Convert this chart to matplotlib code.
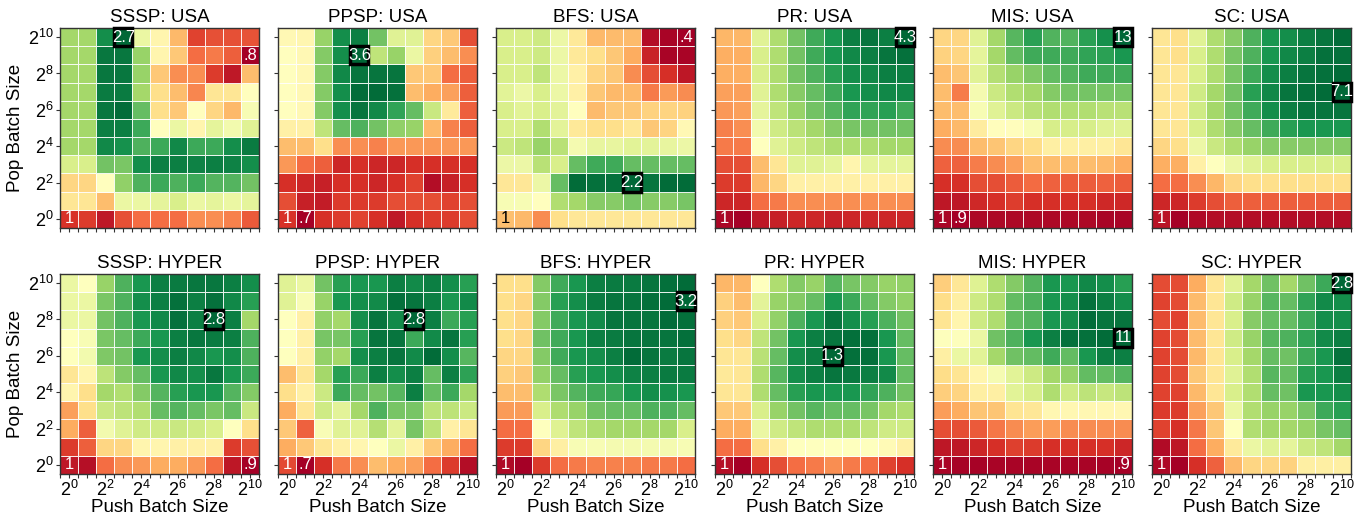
import numpy as np
import matplotlib.pyplot as plt
from matplotlib.patches import Rectangle

plt.rcParams["font.family"] = ["Liberation Sans", "DejaVu Sans"]
plt.rcParams["mathtext.fontset"] = "custom"
plt.rcParams["mathtext.rm"] = "Liberation Sans"
plt.rcParams["mathtext.it"] = "Liberation Sans:italic"

# speedup grids, rows listed from pop=2^10 (top) down to pop=2^0, columns push=2^0..2^10
sssp_usa = [
    [2.13, 2.13, 2.55, 2.70, 1.85, 1.69, 1.41, 1.05, 1.09, 1.09, 1.10],
    [2.13, 2.13, 2.64, 2.64, 2.17, 1.69, 1.47, 1.18, 1.22, 1.14, 0.80],
    [2.13, 2.13, 2.64, 2.64, 2.17, 1.47, 1.28, 1.28, 1.03, 0.90, 1.43],
    [2.13, 2.13, 2.62, 2.62, 2.13, 1.56, 1.43, 1.26, 1.60, 1.60, 1.75],
    [2.13, 2.13, 2.64, 2.68, 2.32, 1.56, 1.47, 1.75, 1.52, 1.41, 1.79],
    [2.13, 2.13, 2.61, 2.61, 2.42, 1.75, 1.85, 1.69, 1.88, 1.81, 1.90],
    [2.13, 2.13, 2.57, 2.53, 2.38, 2.42, 2.57, 2.42, 2.42, 2.55, 2.62],
    [1.94, 1.94, 2.28, 2.26, 2.55, 2.61, 2.61, 2.59, 2.61, 2.59, 2.55],
    [1.52, 1.52, 1.75, 2.19, 2.38, 2.42, 2.38, 2.42, 2.36, 2.36, 2.28],
    [1.60, 1.60, 1.43, 1.85, 1.85, 1.88, 1.94, 1.85, 1.88, 1.85, 1.88],
    [1.00, 1.03, 0.90, 1.09, 1.18, 1.18, 1.18, 1.28, 1.28, 1.24, 1.12],
]
ppsp_usa = [
    [2.09, 2.06, 2.79, 3.37, 3.46, 2.96, 2.38, 2.38, 1.80, 1.72, 1.14],
    [2.15, 2.09, 2.88, 3.37, 3.60, 2.59, 2.79, 2.30, 1.77, 1.66, 1.43],
    [2.15, 2.09, 2.88, 3.40, 3.51, 3.51, 3.51, 1.72, 1.72, 1.28, 1.22],
    [2.15, 2.09, 2.88, 3.37, 3.57, 3.57, 3.54, 1.66, 1.57, 1.51, 1.22],
    [2.15, 2.09, 2.88, 3.37, 3.51, 3.40, 3.22, 3.02, 2.53, 1.95, 1.22],
    [2.01, 2.01, 2.59, 3.02, 3.11, 2.96, 2.82, 2.79, 1.63, 1.37, 1.22],
    [1.66, 1.66, 1.86, 1.43, 1.43, 1.37, 1.48, 1.48, 1.48, 1.48, 1.48],
    [1.48, 1.28, 1.22, 0.93, 0.99, 0.93, 0.93, 0.99, 0.99, 0.99, 0.99],
    [0.99, 0.93, 0.90, 0.99, 0.99, 0.93, 0.99, 1.08, 0.79, 0.90, 0.99],
    [1.14, 0.90, 0.87, 1.05, 1.05, 1.05, 1.14, 1.14, 1.14, 1.08, 1.14],
    [1.00, 0.70, 0.99, 1.05, 1.08, 0.99, 0.85, 0.99, 1.05, 1.05, 1.14],
]
bfs_usa = [
    [1.48, 1.48, 1.52, 1.39, 1.17, 0.98, 0.99, 0.99, 0.45, 0.42, 0.40],
    [1.48, 1.48, 1.52, 1.39, 1.17, 1.12, 1.03, 0.94, 0.53, 0.42, 0.42],
    [1.48, 1.48, 1.57, 1.39, 1.21, 1.08, 1.03, 0.85, 0.67, 0.58, 0.49],
    [1.44, 1.39, 1.48, 1.39, 1.21, 1.03, 0.98, 0.98, 0.80, 0.89, 0.85],
    [1.48, 1.44, 1.48, 1.43, 1.30, 0.99, 1.03, 1.03, 1.07, 1.08, 1.07],
    [1.48, 1.48, 1.62, 1.43, 1.17, 1.12, 1.12, 1.16, 1.03, 1.08, 1.26],
    [1.53, 1.57, 1.70, 1.59, 1.35, 1.41, 1.41, 1.44, 1.43, 1.41, 1.39],
    [1.39, 1.39, 1.59, 1.48, 1.84, 1.93, 1.93, 1.84, 1.84, 1.84, 1.84],
    [1.16, 1.16, 1.39, 1.84, 2.18, 2.16, 2.16, 2.20, 2.15, 2.18, 2.18],
    [1.34, 1.34, 1.30, 1.62, 1.66, 1.75, 1.75, 1.79, 1.75, 1.75, 1.79],
    [1.00, 0.98, 0.85, 1.12, 1.16, 1.16, 1.16, 1.16, 1.16, 1.16, 1.16],
]
pr_usa = [
    [2.02, 2.02, 2.89, 3.23, 3.56, 3.80, 3.97, 4.13, 4.20, 4.13, 4.30],
    [1.96, 1.96, 2.96, 3.23, 3.56, 3.80, 3.97, 4.07, 4.13, 4.20, 4.23],
    [1.96, 1.96, 2.96, 3.23, 3.56, 3.73, 3.90, 4.03, 4.07, 4.13, 4.13],
    [1.89, 1.89, 2.89, 3.23, 3.46, 3.63, 3.80, 3.97, 4.03, 4.07, 4.07],
    [1.85, 1.89, 2.86, 3.13, 3.36, 3.56, 3.70, 3.86, 3.86, 3.90, 3.80],
    [1.72, 1.79, 2.73, 3.03, 3.16, 3.30, 3.46, 3.53, 3.56, 3.56, 3.56],
    [1.69, 1.69, 2.63, 2.89, 3.03, 3.13, 3.23, 3.23, 3.23, 3.30, 3.30],
    [1.45, 1.45, 2.06, 2.36, 2.89, 2.89, 2.86, 2.52, 2.86, 2.86, 2.86],
    [1.35, 1.35, 2.02, 2.22, 2.46, 2.46, 2.46, 2.46, 2.46, 2.46, 2.46],
    [1.22, 1.22, 1.62, 1.69, 1.79, 1.79, 1.79, 1.79, 1.79, 1.79, 1.79],
    [1.00, 0.95, 1.12, 1.18, 1.22, 1.22, 1.18, 1.22, 1.22, 1.22, 1.22],
]
mis_usa = [
    [5.5, 5.5, 7.9, 9.4, 10.8, 11.5, 10.9, 10.9, 11.5, 12.0, 13.0],
    [5.4, 5.5, 7.8, 9.4, 10.6, 11.2, 11.2, 11.2, 11.4, 11.5, 11.8],
    [4.9, 5.1, 7.9, 9.0, 9.6, 10.1, 10.6, 10.9, 11.2, 11.2, 11.2],
    [4.9, 3.6, 7.3, 8.5, 9.1, 9.4, 10.0, 10.3, 10.3, 10.3, 10.3],
    [4.9, 4.9, 7.2, 7.9, 8.5, 8.9, 9.1, 9.1, 9.1, 8.9, 8.9],
    [4.5, 4.8, 6.2, 6.9, 6.9, 7.2, 8.2, 8.2, 8.2, 7.9, 7.9],
    [3.9, 3.9, 4.9, 5.1, 5.5, 5.7, 6.3, 6.3, 6.3, 6.3, 6.0],
    [3.1, 3.1, 3.6, 3.9, 4.3, 4.9, 4.9, 4.9, 4.9, 4.8, 4.5],
    [2.1, 2.1, 2.7, 2.7, 3.0, 3.3, 3.1, 3.0, 3.0, 3.1, 3.0],
    [1.5, 1.5, 1.9, 2.1, 2.4, 2.1, 2.1, 2.1, 2.1, 1.9, 1.9],
    [1.0, 0.9, 1.1, 1.1, 1.1, 1.1, 1.1, 1.1, 1.1, 1.0, 1.0],
]
sc_usa = [
    [3.42, 3.29, 4.43, 5.07, 5.51, 6.02, 6.47, 6.59, 6.78, 6.91, 7.04],
    [3.42, 3.29, 4.56, 5.07, 5.64, 6.02, 6.47, 6.66, 6.78, 6.97, 6.97],
    [3.42, 3.42, 4.56, 5.07, 5.64, 6.15, 6.59, 6.78, 6.91, 6.97, 7.04],
    [3.42, 3.42, 4.69, 5.20, 5.70, 6.34, 6.66, 6.91, 6.97, 7.04, 7.10],
    [3.42, 3.42, 4.69, 5.20, 5.70, 6.15, 6.59, 6.78, 6.91, 6.91, 6.91],
    [3.42, 3.42, 4.56, 5.07, 5.51, 5.83, 6.15, 6.34, 6.47, 6.47, 6.47],
    [3.16, 3.29, 4.24, 4.75, 5.07, 5.32, 5.51, 5.51, 5.51, 5.51, 5.51],
    [2.66, 2.66, 3.61, 3.93, 4.24, 4.43, 4.56, 4.56, 4.56, 4.56, 4.56],
    [2.02, 2.02, 2.34, 2.78, 3.16, 3.29, 3.29, 3.29, 3.29, 3.29, 3.29],
    [1.26, 1.26, 1.51, 1.70, 1.89, 1.89, 1.89, 1.89, 1.89, 1.89, 1.89],
    [1.00, 0.75, 0.88, 0.94, 0.94, 0.94, 0.94, 0.94, 0.94, 0.94, 0.94],
]
sssp_hyper = [
    [1.95, 1.85, 2.27, 2.48, 2.61, 2.71, 2.72, 2.74, 2.74, 2.71, 2.65],
    [1.95, 1.95, 2.36, 2.48, 2.65, 2.71, 2.76, 2.71, 2.76, 2.67, 2.57],
    [1.95, 1.95, 2.38, 2.48, 2.61, 2.67, 2.76, 2.71, 2.80, 2.71, 2.23],
    [1.85, 1.89, 2.36, 2.42, 2.52, 2.61, 2.71, 2.74, 2.72, 2.71, 2.48],
    [1.85, 1.91, 2.34, 2.38, 2.61, 2.65, 2.71, 2.67, 2.61, 2.65, 2.48],
    [1.70, 1.79, 2.14, 2.33, 2.42, 2.61, 2.67, 2.65, 2.74, 2.61, 2.52],
    [1.79, 1.66, 2.23, 2.19, 2.33, 2.46, 2.57, 2.61, 2.61, 2.46, 2.33],
    [1.43, 1.66, 2.10, 2.14, 2.19, 2.42, 2.46, 2.42, 2.36, 2.42, 2.10],
    [1.47, 1.24, 1.91, 2.00, 2.08, 2.08, 2.10, 2.08, 2.04, 1.85, 1.66],
    [1.13, 1.24, 1.62, 1.62, 1.79, 1.79, 1.76, 1.76, 1.76, 1.13, 1.19],
    [1.00, 0.96, 1.28, 1.38, 1.41, 1.47, 1.47, 1.41, 1.28, 0.99, 0.90],
]
ppsp_hyper = [
    [1.92, 1.86, 2.34, 2.55, 2.59, 2.59, 2.70, 2.65, 2.70, 2.63, 2.55],
    [1.92, 1.79, 2.21, 2.59, 2.63, 2.65, 2.76, 2.74, 2.70, 2.59, 2.65],
    [1.75, 1.65, 2.23, 2.17, 2.63, 2.74, 2.65, 2.80, 2.70, 2.49, 2.55],
    [1.75, 1.65, 2.32, 2.32, 2.55, 2.74, 2.74, 2.49, 2.65, 2.74, 2.55],
    [1.75, 1.65, 2.23, 2.17, 2.63, 2.70, 2.74, 2.65, 2.78, 2.63, 2.42],
    [1.39, 1.58, 2.17, 2.55, 2.49, 2.70, 2.63, 2.70, 2.38, 2.70, 2.53],
    [1.54, 1.65, 2.02, 2.49, 2.38, 2.34, 2.42, 2.70, 2.38, 2.49, 2.17],
    [1.33, 1.58, 2.00, 1.90, 2.17, 2.44, 2.32, 2.32, 2.07, 2.07, 2.02],
    [1.44, 1.08, 1.79, 1.92, 1.92, 2.11, 1.90, 2.32, 2.07, 1.65, 1.58],
    [1.33, 1.44, 1.58, 1.65, 1.69, 1.75, 1.86, 1.65, 1.44, 1.33, 1.12],
    [1.00, 0.70, 0.91, 1.16, 1.23, 1.39, 1.33, 1.29, 1.12, 0.95, 0.76],
]
bfs_hyper = [
    [1.85, 1.85, 2.64, 2.86, 2.98, 3.09, 3.11, 3.11, 3.13, 3.16, 3.18],
    [1.85, 1.81, 2.64, 2.93, 3.02, 3.11, 3.13, 3.13, 3.16, 3.18, 3.20],
    [1.85, 1.81, 2.64, 2.86, 2.98, 3.04, 3.13, 3.13, 3.13, 3.18, 3.16],
    [1.85, 1.81, 2.71, 2.86, 2.98, 3.09, 3.11, 3.13, 3.13, 3.13, 3.16],
    [1.81, 1.81, 2.64, 2.86, 2.98, 3.02, 3.09, 3.18, 3.13, 3.11, 3.13],
    [1.78, 1.74, 2.59, 2.75, 2.93, 2.98, 3.02, 3.07, 3.09, 3.11, 3.11],
    [1.69, 1.69, 2.48, 2.68, 2.80, 2.86, 2.89, 2.98, 3.02, 3.00, 2.98],
    [1.56, 1.56, 2.30, 2.48, 2.57, 2.71, 2.75, 2.75, 2.82, 2.82, 2.75],
    [1.40, 1.40, 2.08, 2.26, 2.41, 2.48, 2.53, 2.53, 2.53, 2.53, 2.30],
    [1.22, 1.22, 1.81, 1.96, 2.12, 2.12, 2.14, 2.14, 2.14, 2.14, 2.12],
    [1.00, 0.95, 1.22, 1.40, 1.45, 1.47, 1.47, 1.47, 1.45, 1.45, 1.40],
]
pr_hyper = [
    [1.089, 1.089, 1.145, 1.201, 1.223, 1.213, 1.244, 1.229, 1.223, 1.213, 1.216],
    [1.105, 1.092, 1.167, 1.213, 1.223, 1.238, 1.269, 1.254, 1.238, 1.223, 1.216],
    [1.105, 1.099, 1.176, 1.216, 1.247, 1.269, 1.291, 1.275, 1.263, 1.247, 1.232],
    [1.114, 1.108, 1.192, 1.232, 1.269, 1.285, 1.291, 1.294, 1.294, 1.269, 1.238],
    [1.120, 1.120, 1.195, 1.238, 1.275, 1.285, 1.300, 1.294, 1.294, 1.269, 1.238],
    [1.123, 1.120, 1.201, 1.244, 1.275, 1.285, 1.291, 1.288, 1.285, 1.278, 1.238],
    [1.120, 1.120, 1.201, 1.238, 1.263, 1.269, 1.269, 1.269, 1.260, 1.247, 1.232],
    [1.099, 1.099, 1.176, 1.213, 1.232, 1.244, 1.238, 1.238, 1.229, 1.207, 1.201],
    [1.083, 1.083, 1.161, 1.182, 1.192, 1.201, 1.201, 1.201, 1.192, 1.182, 1.182],
    [1.052, 1.052, 1.114, 1.130, 1.145, 1.145, 1.145, 1.145, 1.145, 1.139, 1.130],
    [1.000, 0.990, 1.021, 1.037, 1.052, 1.058, 1.068, 1.058, 1.052, 1.030, 1.021],
]
mis_hyper = [
    [4.6, 5.2, 6.8, 7.8, 8.5, 9.2, 10.0, 10.0, 10.3, 10.2, 9.8],
    [4.9, 5.4, 7.2, 7.8, 9.0, 9.3, 10.0, 10.2, 10.8, 10.5, 10.2],
    [5.1, 5.6, 7.2, 7.8, 9.0, 9.2, 10.0, 10.2, 10.9, 10.7, 10.7],
    [6.0, 6.0, 6.5, 8.8, 9.3, 10.0, 10.5, 10.8, 10.8, 10.9, 11.0],
    [5.4, 6.5, 6.7, 8.0, 8.8, 9.0, 9.5, 9.0, 10.0, 10.5, 10.5],
    [4.9, 5.1, 5.6, 6.2, 6.7, 7.2, 8.0, 8.2, 9.0, 9.0, 9.2],
    [4.6, 4.7, 5.4, 5.4, 6.7, 7.0, 7.8, 7.2, 7.5, 7.3, 7.5],
    [3.7, 3.9, 4.4, 4.4, 5.1, 5.2, 5.7, 5.7, 5.7, 5.7, 5.7],
    [2.4, 2.4, 2.6, 3.1, 3.4, 3.7, 3.7, 3.4, 3.4, 3.4, 3.4],
    [1.4, 1.4, 1.7, 1.9, 2.2, 2.1, 1.9, 1.9, 1.9, 1.9, 1.7],
    [1.0, 0.95, 0.95, 1.0, 1.0, 1.0, 1.0, 1.0, 1.0, 0.95, 0.9],
]
sc_hyper = [
    [1.24, 1.24, 1.52, 1.74, 2.03, 2.25, 2.40, 2.25, 2.40, 2.53, 2.80],
    [1.21, 1.24, 1.57, 1.74, 2.10, 2.29, 2.47, 2.43, 2.56, 2.67, 2.65],
    [1.24, 1.21, 1.57, 1.74, 2.07, 2.34, 2.43, 2.43, 2.53, 2.65, 2.65],
    [1.21, 1.24, 1.57, 1.74, 2.10, 2.29, 2.47, 2.49, 2.56, 2.67, 2.71],
    [1.21, 1.24, 1.56, 1.74, 2.07, 2.25, 2.43, 2.40, 2.53, 2.62, 2.75],
    [1.21, 1.24, 1.61, 1.74, 2.03, 2.21, 2.47, 2.43, 2.58, 2.62, 2.71],
    [1.21, 1.21, 1.56, 1.74, 2.07, 2.21, 2.43, 2.40, 2.62, 2.62, 2.65],
    [1.19, 1.19, 1.48, 1.61, 1.98, 2.21, 2.29, 2.29, 2.38, 2.53, 2.58],
    [1.21, 1.15, 1.37, 1.61, 1.89, 2.21, 2.25, 2.25, 2.29, 2.38, 2.43],
    [1.02, 1.06, 1.34, 1.52, 1.76, 1.98, 2.03, 2.01, 2.12, 2.16, 2.25],
    [1.00, 0.97, 1.15, 1.30, 1.56, 1.67, 1.67, 1.65, 1.79, 1.79, 1.79],
]

algos = ["SSSP", "PPSP", "BFS", "PR", "MIS", "SC"]
graphs = ["USA", "HYPER"]
grids = [
    [sssp_usa, ppsp_usa, bfs_usa, pr_usa, mis_usa, sc_usa],
    [sssp_hyper, ppsp_hyper, bfs_hyper, pr_hyper, mis_hyper, sc_hyper],
]
# (pop exponent, push exponent) of the best cell
best_cells = [
    [(10, 3), (9, 4), (2, 7), (10, 10), (10, 10), (7, 10)],
    [(8, 8), (8, 7), (9, 10), (6, 6), (7, 10), (10, 10)],
]
# labelled cells: (pop exp, push exp, text)
labels = [
    [[(0, 0, "1"), (10, 3, "2.7"), (9, 10, ".8")],
     [(0, 0, "1"), (0, 1, ".7"), (9, 4, "3.6")],
     [(0, 0, "1"), (2, 7, "2.2"), (10, 10, ".4")],
     [(0, 0, "1"), (10, 10, "4.3")],
     [(0, 0, "1"), (0, 1, ".9"), (10, 10, "13")],
     [(0, 0, "1"), (7, 10, "7.1")]],
    [[(0, 0, "1"), (8, 8, "2.8"), (0, 10, ".9")],
     [(0, 0, "1"), (0, 1, ".7"), (8, 7, "2.8")],
     [(0, 0, "1"), (9, 10, "3.2")],
     [(0, 0, "1"), (6, 6, "1.3")],
     [(0, 0, "1"), (7, 10, "11"), (0, 10, ".9")],
     [(0, 0, "1"), (10, 10, "2.8")]],
]

exps = np.arange(11)
cmap = plt.get_cmap("RdYlGn")

fig = plt.figure(figsize=(13.64, 5.18), dpi=100)
W, H = 1364.0, 518.0
lefts = [60, 278, 496, 715, 933, 1152]
tops = [28, 274]
aw, ah = 199, 200

for r in range(2):
    for c in range(6):
        ax = fig.add_axes([lefts[c] / W, 1 - (tops[r] + ah) / H, aw / W, ah / H])
        data = np.flipud(np.array(grids[r][c], dtype=float))
        vmin, vmax = data.min(), data.max()
        edges = np.arange(12) - 0.5
        ax.pcolormesh(edges, edges, data, cmap=cmap, vmin=vmin, vmax=vmax,
                      edgecolors=(1, 1, 1, 0.9), linewidth=0.7)
        ax.set_xlim(-0.5, 10.5)
        ax.set_ylim(-0.5, 10.5)

        for (pr, pc, txt) in labels[r][c]:
            t = (data[pr, pc] - vmin) / (vmax - vmin)
            col = "white" if (t < 0.3 or t > 0.7) else "black"
            ax.text(pc, pr, txt, ha="center", va="center", color=col,
                    fontsize=12, clip_on=False, zorder=5)
        br, bc = best_cells[r][c]
        ax.add_patch(Rectangle((bc - 0.5, br - 0.5), 1, 1, fill=False,
                               edgecolor="black", linewidth=2.5, clip_on=False, zorder=4))

        ax.set_xticks(exps[::2])
        ax.set_yticks(exps[::2])
        ax.set_xticks(np.arange(-0.5, 11, 0.5), minor=True)
        ax.tick_params(which="both", direction="out", length=3, width=0.8, color="#333333")
        if r == 1:
            ax.set_xticklabels([f"$2^{{{e}}}$" for e in exps[::2]], fontsize=13)
            ax.set_xlabel("Push Batch Size", fontsize=13.5, labelpad=-1)
        else:
            ax.set_xticklabels([])
        if c == 0:
            ax.set_yticklabels([f"$2^{{{e}}}$" for e in exps[::2]], fontsize=13)
            ax.set_ylabel("Pop Batch Size", fontsize=13.5, labelpad=3)
        else:
            ax.set_yticklabels([])
        ax.tick_params(axis="both", pad=1.5)
        for s in ax.spines.values():
            s.set_color("#333333")
            s.set_linewidth(1.0)
        ax.set_title(f"{algos[c]}: {graphs[r]}", fontsize=13.5, pad=4)

fig.savefig("out.png", dpi=100)
